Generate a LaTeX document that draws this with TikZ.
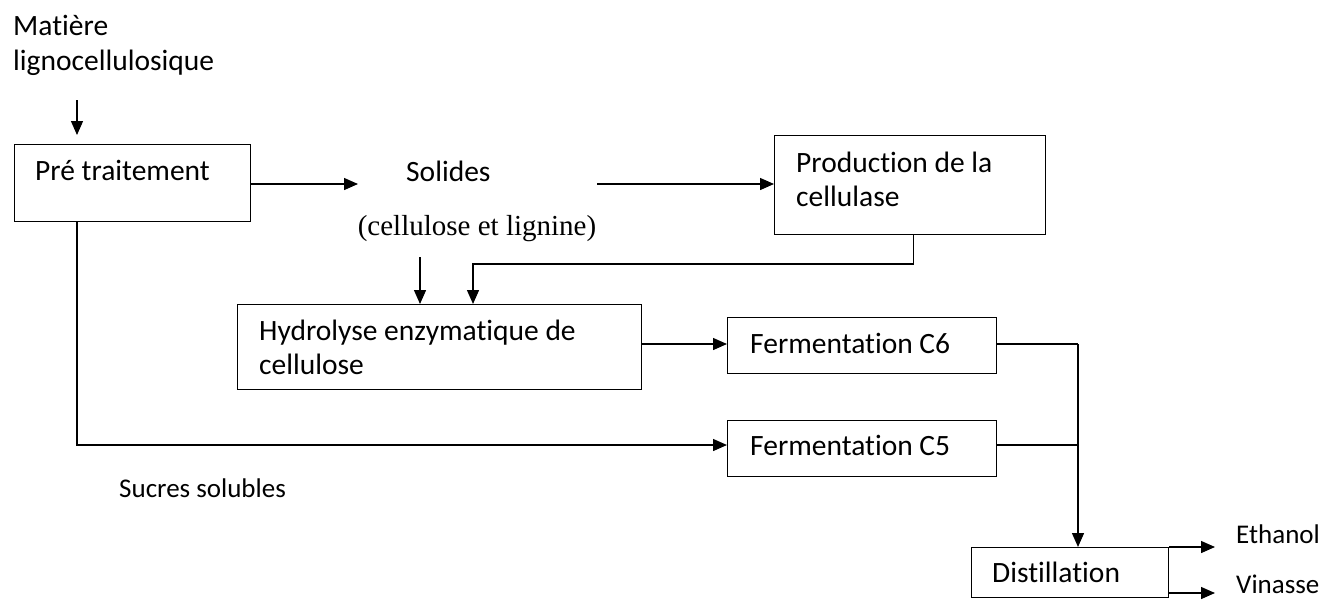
\documentclass[tikz,border=0pt]{standalone}
\usepackage{fontspec}
\setmainfont{Carlito}[Ligatures={NoCommon}]
\newfontfamily\serifface{Liberation Serif}
\usetikzlibrary{arrows.meta}

\tikzset{
  box/.style={draw, line width=1.4pt, inner sep=0pt, anchor=north west},
  lbl/.style={anchor=base west, inner sep=0pt, font=\fontsize{29.5}{35}\selectfont},
  side/.style={anchor=base west, inner sep=0pt, font=\fontsize{27}{32}\selectfont},
  link/.style={line width=1.4pt},
  arr/.style={line width=1.4pt, -{Triangle[length=14pt,width=12pt]}}
}

\begin{document}
\begin{tikzpicture}[x=1pt, y=-1pt]
  \useasboundingbox (0,0) rectangle (1321,600);

  % process boxes
  \node[box, minimum width=236pt, minimum height=77pt]  (pre)  at (14,144)  {};
  \node[box, minimum width=271pt, minimum height=99pt]  (prod) at (774,135) {};
  \node[box, minimum width=404pt, minimum height=85pt]  (hyd)  at (237,304) {};
  \node[box, minimum width=269pt, minimum height=56pt]  (c6)   at (727,317) {};
  \node[box, minimum width=269pt, minimum height=56pt]  (c5)   at (727,420) {};
  \node[box, minimum width=197pt, minimum height=50pt]  (dist) at (971,547) {};

  % labels
  \node[lbl] (mat1) at (13,35)   {Matière};
  \node[lbl] (mat2) at (13,70)   {lignocellulosique};
  \node[lbl] (pret) at (35,180)  {Pré traitement};
  \node[lbl] (sol)  at (406,181) {Solides};
  \node[anchor=base, inner sep=0pt, font=\serifface\fontsize{29}{34}\selectfont]
             (solc) at (477,235) {(cellulose et lignine)};
  \node[lbl] (prt1) at (796,172) {Production de la};
  \node[lbl] (prt2) at (796,206) {cellulase};
  \node[lbl] (hyt1) at (259,340) {Hydrolyse enzymatique de};
  \node[lbl] (hyt2) at (259,374) {cellulose};
  \node[lbl] (c6t)  at (750,353) {Fermentation C6};
  \node[lbl] (c5t)  at (750,455) {Fermentation C5};
  \node[lbl] (dstt) at (992,582) {Distillation};
  \node[side] (suc) at (119,497)  {Sucres solubles};
  \node[side] (eth) at (1236,543) {Ethanol};
  \node[side] (vin) at (1236,593) {Vinasse};

  % connector end points
  \coordinate (feed)  at (77,100);
  \coordinate (solin) at (358,184);
  \coordinate (solout) at (597,184);
  \coordinate (soldn) at (420,257);
  \coordinate (ret)   at (473,264);
  \coordinate (sug)   at (77,445);
  \coordinate (bus)   at (1078,344);
  \coordinate (out)   at (1215,547);
  \coordinate (vsrc)  at (1168,593);

  % connectors
  \draw[arr] (feed) -- (feed |- pre.north) [shorten >=9pt];
  \draw[arr] (pre.east |- solin) -- (solin);
  \draw[arr] (solout) -- (solout -| prod.west);
  \draw[arr] (soldn) -- (soldn |- hyd.north);
  \draw[arr] ([xshift=3pt]prod.south) |- (ret) -- (ret |- hyd.north);
  \draw[arr] (hyd.east |- bus) -- (bus -| c6.west);
  \draw[arr] (sug |- pre.south) -- (sug) -- (sug -| c5.west);
  \draw[link] (c6.east |- bus) -- (bus);
  \draw[link] (c5.east |- sug) -- (sug -| bus);
  \draw[arr] (bus) -- (bus |- dist.north);
  \draw[arr] (dist.north east) -- (out);
  \draw[arr] (vsrc) -- (vsrc -| out);
\end{tikzpicture}
\end{document}
